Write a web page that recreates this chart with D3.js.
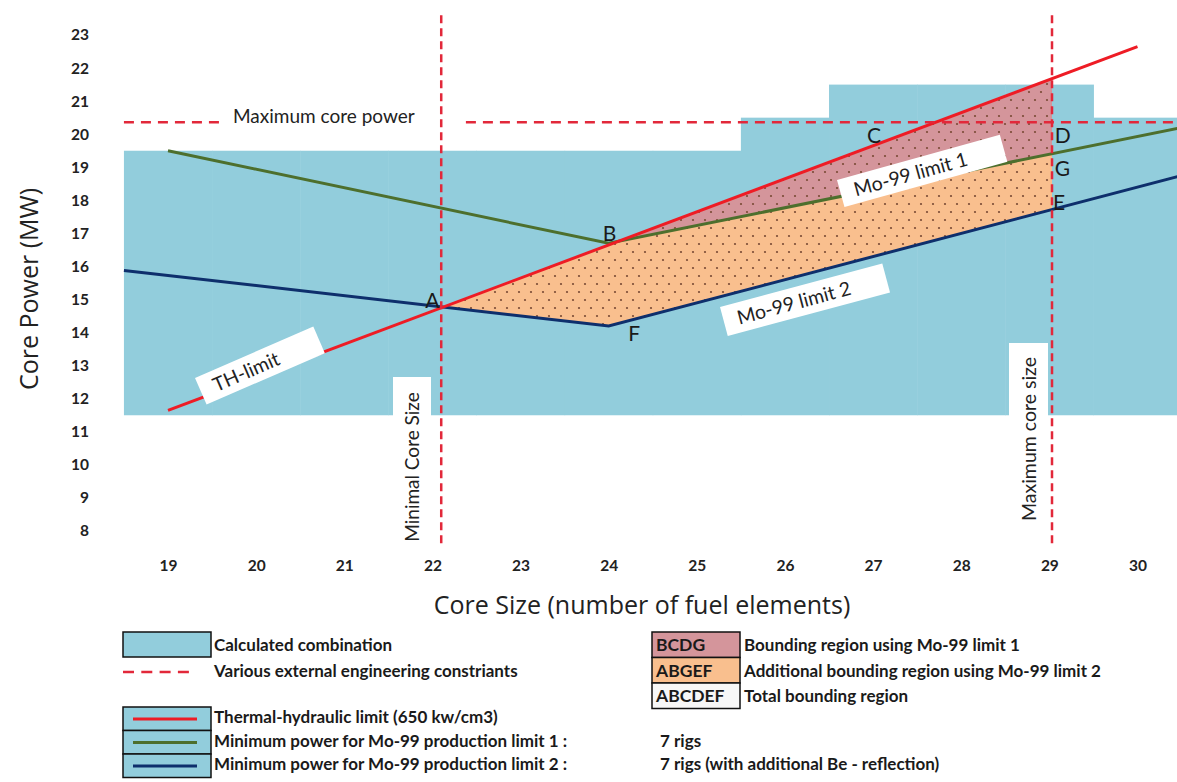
<!DOCTYPE html>
<html><head><meta charset="utf-8">
<script src="https://cdn.jsdelivr.net/npm/d3@7"></script>
<style>body{margin:0;background:#fff} svg{display:block}</style>
</head><body><svg id="c" width="1177" height="782" font-family="Lato, 'Open Sans', sans-serif"></svg>
<script>
// ---------- data ----------
const coreSizes = [19,20,21,22,23,24,25,26,27,28,29,30];
const calcLow   = [11.5,11.5,11.5,11.5,11.5,11.5,11.5,11.5,11.5,11.5,11.5,11.5];
const calcHigh  = [19.5,19.5,19.5,19.5,19.5,19.5,19.5,20.5,21.5,21.5,21.5,20.5];
const yTicks = [8,9,10,11,12,13,14,15,16,17,18,19,20,21,22,23];
const thX = [19,30],          thY = [11.65,22.65];          // TH-limit
const lim1X = [19,24,30.5],   lim1Y = [19.5,16.7,20.2];     // Mo-99 limit 1
const lim2X = [18.5,24,30.5], lim2Y = [15.88,14.2,18.75];   // Mo-99 limit 2
const bcdgX = [24,29.03,29.03],           bcdgY = [16.68,21.68,19.4];
const abgefX = [22.1,24,29.03,29.03,24],  abgefY = [14.75,16.68,19.4,17.7,14.2];
const maxCorePower = 20.36, minCoreSize = 22.1, maxCoreSize = 29.03;
const maxPowerSegStart = [18.5,22.38], maxPowerSegEnd = [19.6,30.5];
const vLineTop = 23.6, vLineBottom = 7.5;
const ptNames = ["A","B","C","D","G","E","F"];
const ptX = [22.0,24.01,27.01,29.06,29.06,29.04,24.29];
const ptY = [14.74,16.77,19.73,19.73,18.74,17.71,13.75];
const ptAnchor = ["middle","middle","middle","start","start","start","middle"];

const svg = d3.select("#c");
const x = d3.scaleLinear().domain([19,30]).range([168,1137.5]);
const y = d3.scaleLinear().domain([8,23]).range([531,35]);

const C = {bg:"#92cddc", pink:"#d4959b", orange:"#f9bf8e", red:"#ee1c25", green:"#4d6f2d", navy:"#0e2f6c", dash:"#e2283a"};

// pattern
const defs = svg.append("defs");
function dotPattern(id, fill){
  const p = defs.append("pattern").attr("id",id).attr("patternUnits","userSpaceOnUse").attr("width",12).attr("height",16);
  p.append("rect").attr("width",12).attr("height",16).attr("fill",fill);
  p.append("circle").attr("cx",3).attr("cy",4).attr("r",1.1).attr("fill","#7a4a35");
  p.append("circle").attr("cx",9).attr("cy",12).attr("r",1.1).attr("fill","#7a4a35");
}
dotPattern("pPink", C.pink); dotPattern("pOrange", C.orange);

// calculated combination
svg.append("g").selectAll("rect").data(coreSizes).join("rect")
  .attr("x", d => x(d-0.5)).attr("width", d => x(d+0.5)-x(d-0.5)+0.5)
  .attr("y", (d,i) => y(calcHigh[i])).attr("height", (d,i) => y(calcLow[i])-y(calcHigh[i]))
  .attr("fill", C.bg);

// regions
const poly = (xs,ys) => xs.map((v,i)=>[x(v),y(ys[i])]).join(" ");
svg.append("polygon").attr("points", poly(abgefX,abgefY)).attr("fill","url(#pOrange)");
svg.append("polygon").attr("points", poly(bcdgX,bcdgY)).attr("fill","url(#pPink)");

// lines
const line = d3.line().x(d=>x(d[0])).y(d=>y(d[1]));
function drawLine(xs,ys,col){
  svg.append("path").attr("d", line(xs.map((v,i)=>[v,ys[i]]))).attr("fill","none")
    .attr("stroke",col).attr("stroke-width",3);
}
drawLine(lim1X,lim1Y,C.green);
drawLine(lim2X,lim2Y,C.navy);
drawLine(thX,thY,C.red);

// label boxes
function tag(tx,ty,ang,w,h,label){
  const g = svg.append("g").attr("transform",`translate(${tx},${ty}) rotate(${ang})`);
  g.append("rect").attr("width",w).attr("height",h).attr("fill","#fff");
  g.append("text").attr("x",14).attr("y",h/2+7).attr("font-size",19.5).attr("fill","#222").text(label);
}
tag(195,378,-23.5,129,29,"TH-limit");
tag(837,180,-15.5,169,28,"Mo-99 limit 1");
tag(720,307,-15,168,30,"Mo-99 limit 2");

// vertical label boxes
svg.append("rect").attr("x",393).attr("y",377).attr("width",38).attr("height",170).attr("fill","#fff");
svg.append("rect").attr("x",1009).attr("y",343).attr("width",39).attr("height",204).attr("fill","#fff");
svg.append("text").attr("transform",`translate(419,467) rotate(-90)`).attr("text-anchor","middle")
  .attr("font-size",19).attr("fill","#222").text("Minimal Core Size");
svg.append("text").attr("transform",`translate(1036,439) rotate(-90)`).attr("text-anchor","middle")
  .attr("font-size",19.5).attr("fill","#222").text("Maximum core size");

// dashed constraints
svg.append("g").selectAll("line").data(maxPowerSegStart).join("line")
  .attr("x1",d=>x(d)).attr("x2",(d,i)=>x(maxPowerSegEnd[i]))
  .attr("y1",y(maxCorePower)).attr("y2",y(maxCorePower))
  .attr("stroke",C.dash).attr("stroke-width",2.5).attr("stroke-dasharray","10,7");
svg.append("g").selectAll("line").data([minCoreSize,maxCoreSize]).join("line")
  .attr("x1",d=>x(d)).attr("x2",d=>x(d)).attr("y1",y(vLineTop)).attr("y2",y(vLineBottom))
  .attr("stroke",C.dash).attr("stroke-width",2.5).attr("stroke-dasharray","8,5");
svg.append("text").attr("x",233).attr("y",123).attr("font-size",19).attr("fill","#222").text("Maximum core power");

// point letters
svg.append("g").selectAll("text").data(ptNames).join("text")
  .attr("x",(d,i)=>x(ptX[i])).attr("y",(d,i)=>y(ptY[i])).attr("text-anchor",(d,i)=>ptAnchor[i])
  .attr("font-size",21).attr("fill","#1a1a1a").text(d=>d);

// axes
const ax = svg.append("g").attr("transform",`translate(0,${y(8)})`)
  .call(d3.axisBottom(x).tickValues(coreSizes).tickSize(0).tickPadding(29).tickFormat(d3.format("d")));
const ay = svg.append("g").attr("transform",`translate(89,0)`)
  .call(d3.axisLeft(y).tickValues(yTicks).tickSize(0).tickPadding(0).tickFormat(d3.format("d")));
[ax,ay].forEach(g=>{ g.select(".domain").remove();
  g.attr("font-family","Lato").attr("font-size",15.5);
  g.selectAll("text").attr("font-weight","bold").attr("fill","#222"); });

svg.append("text").attr("transform","translate(38,289) rotate(-90)").attr("text-anchor","middle")
  .attr("font-family","Open Sans").attr("font-size",25).attr("fill","#222").text("Core Power (MW)");
svg.append("text").attr("x",642).attr("y",614).attr("text-anchor","middle")
  .attr("font-family","Open Sans").attr("font-size",25).attr("fill","#222").text("Core Size (number of fuel elements)");

// legend
const L = svg.append("g").attr("font-weight","bold").attr("font-size",17).attr("fill","#1a1a1a");
L.append("rect").attr("x",123).attr("y",632).attr("width",88).attr("height",25).attr("fill",C.bg).attr("stroke","#111").attr("stroke-width",1.5);
L.append("text").attr("x",214).attr("y",651).text("Calculated combination");
L.append("line").attr("x1",123).attr("x2",190).attr("y1",672).attr("y2",672).attr("stroke",C.dash).attr("stroke-width",2.5).attr("stroke-dasharray","11,7.3");
L.append("text").attr("x",214).attr("y",677).text("Various external engineering constriants");

const legLines = [C.red, C.green, C.navy];
const legTexts = ["Thermal-hydraulic limit (650 kw/cm3)","Minimum power for Mo-99 production limit 1 :","Minimum power for Mo-99 production limit 2 :"];
const legRigs = ["","7 rigs","7 rigs (with additional Be - reflection)"];
legLines.forEach((c,i)=>{
  const top = 707 + i*23.5;
  L.append("rect").attr("x",123).attr("y",top).attr("width",88).attr("height",23.5).attr("fill",C.bg).attr("stroke","#111").attr("stroke-width",1.5);
  L.append("line").attr("x1",133).attr("x2",197).attr("y1",top+12).attr("y2",top+12).attr("stroke",c).attr("stroke-width",3);
  L.append("text").attr("x",214).attr("y",top+16).text(legTexts[i]);
  L.append("text").attr("x",660).attr("y",top+16).text(legRigs[i]);
});

const regFills = [C.pink, C.orange, "#f7f7f7"];
const regCodes = ["BCDG","ABGEF","ABCDEF"];
const regTexts = ["Bounding region using Mo-99 limit 1","Additional bounding region using Mo-99 limit 2","Total bounding region"];
regCodes.forEach((c,i)=>{
  const top = 632 + i*25.5;
  L.append("rect").attr("x",652).attr("y",top).attr("width",88).attr("height",25.5).attr("fill",regFills[i]).attr("stroke","#111").attr("stroke-width",1.5);
  L.append("text").attr("x",656).attr("y",top+19).attr("font-size",17.5).text(c);
  L.append("text").attr("x",744).attr("y",top+19).text(regTexts[i]);
});
</script></body></html>
